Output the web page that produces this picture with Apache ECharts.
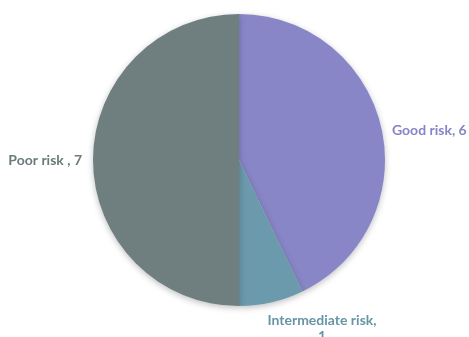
<!DOCTYPE html>
<html><head><meta charset="utf-8">
<script src="https://cdn.jsdelivr.net/npm/echarts@6/dist/echarts.min.js"></script>
<style>html,body{margin:0;padding:0;background:#fff}#c{width:469px;height:337px}</style>
</head><body><div id="c"></div>
<script>
const categories = ['Good risk', 'Intermediate risk', 'Poor risk'];
const values = [6, 1, 7];
const labelTexts = ['Good risk, 6', 'Intermediate risk,\n1', 'Poor risk , 7'];
const colors = ['#8986c8', '#6a9aac', '#6f7f80'];
const labelColors = ['#8683c6', '#6595a6', '#6b7b7b'];
const labelAnchors = [
  { x: 392, y: 130, align: 'left', verticalAlign: 'middle' },
  { x: 322, y: 312, align: 'center', verticalAlign: 'top' },
  { x: 82, y: 160, align: 'right', verticalAlign: 'middle' }
];

const chart = echarts.init(document.getElementById('c'));
chart.setOption({
  animation: false,
  series: [{
    type: 'pie',
    center: [239, 160],
    radius: 146,
    startAngle: 90,
    clockwise: true,
    data: categories.map((n, i) => ({
      name: n, value: values[i],
      itemStyle: { color: colors[i] },
      label: { color: labelColors[i], formatter: labelTexts[i], align: labelAnchors[i].align }
    })),
    itemStyle: { shadowBlur: 6, shadowColor: 'rgba(0,0,0,0.25)', shadowOffsetY: 2 },
    label: {
      show: true, position: 'outside', overflow: 'none',
      fontFamily: 'Lato', fontWeight: 'bold', fontSize: 14,
      lineHeight: 16
    },
    labelLine: { show: false },
    labelLayout: p => labelAnchors[p.dataIndex],
    emphasis: { disabled: true }
  }]
});
</script></body></html>
